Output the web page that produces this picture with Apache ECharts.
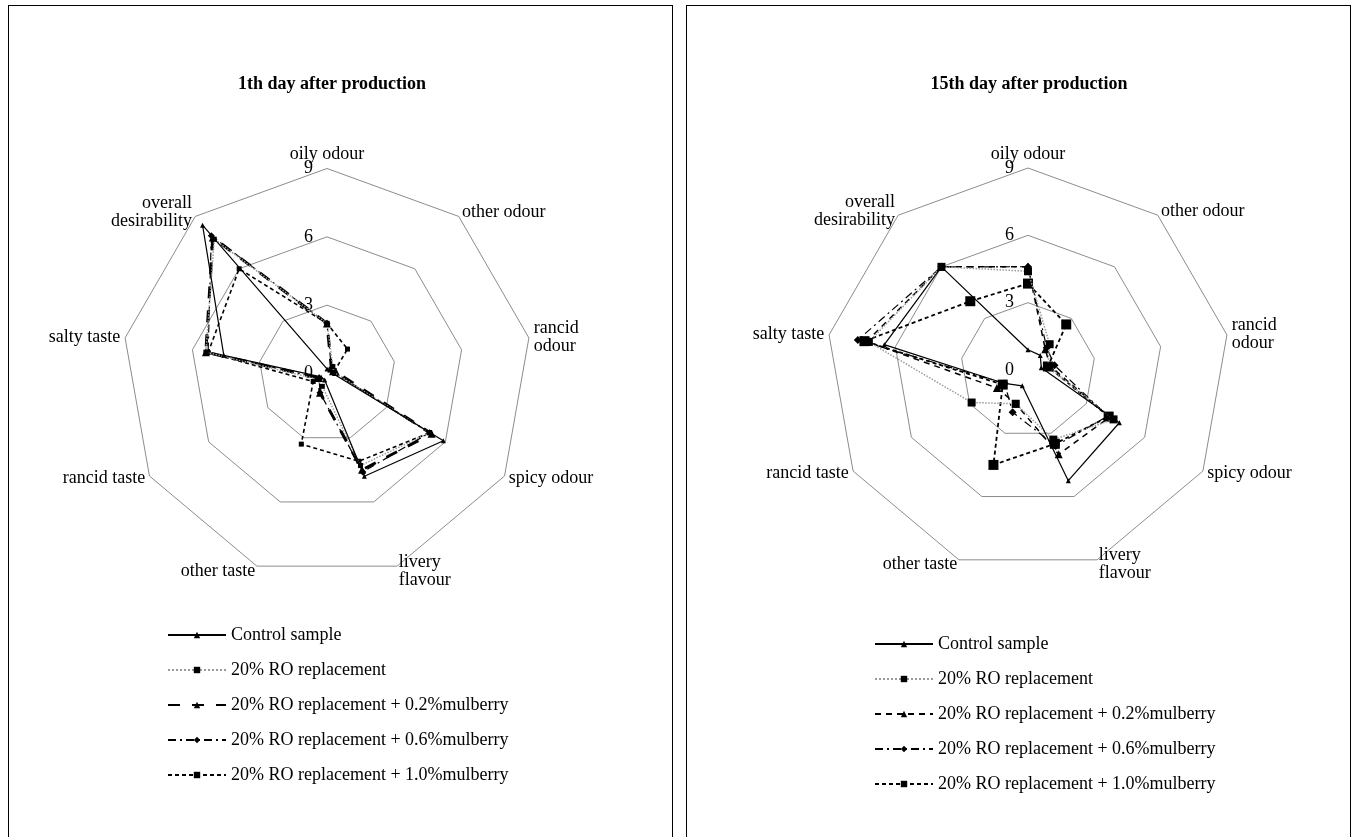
<!DOCTYPE html>
<html><head><meta charset="utf-8">
<script src="https://cdn.jsdelivr.net/npm/echarts@6/dist/echarts.min.js"></script>
<style>
html,body{margin:0;padding:0;background:#fff;overflow:hidden;width:1356px;height:837px;}
.panel{position:absolute;top:5px;width:665px;height:850px;border:1px solid #000;box-sizing:border-box;background:#fff;}
#p1{left:8px;} #p2{left:686px;}
.chart{position:absolute;left:0;top:0;width:663px;height:848px;}
</style></head>
<body>
<div class="panel" id="p1"><div class="chart" id="c1"></div></div>
<div class="panel" id="p2"><div class="chart" id="c2"></div></div>
<script>
// ---- data ----
const indicatorNames = ['oily odour','other odour','rancid\nodour','spicy odour','livery\nflavour','other taste','rancid taste','salty taste','overall\ndesirability'];
const axisMin = 0;
const axisMax = 9;
const tickInterval = 3;
const seriesNames = ['Control sample','20% RO replacement','20% RO replacement + 0.2%mulberry','20% RO replacement + 0.6%mulberry','20% RO replacement + 1.0%mulberry'];
const chartTitles = ['1th day after production','15th day after production'];

// order: oily, other odour, rancid odour, spicy, livery, other taste, rancid taste, salty, overall
const day1Control = [0.2, 0.2, 0.2, 5.9, 4.8, 0.3, 0.3, 4.6, 8.5];
const day1RO      = [2.2, 0.4, 0.3, 5.2, 4.3, 0.6, 0.5, 5.4, 7.7];
const day1M02     = [2.2, 0.3, 0.4, 5.3, 4.5, 0.9, 0.4, 5.4, 7.8];
const day1M06     = [2.2, 0.3, 0.3, 5.2, 4.6, 0.9, 0.4, 5.3, 7.9];
const day1M10     = [2.2, 1.4, 0.3, 5.2, 4.1, 3.3, 0.7, 5.3, 6.0];

const day15Control = [0.9, 0.85, 0.6, 4.7, 5.25, 0.75, 1.2, 6.5, 6.0];
const day15RO      = [4.4, 1.5, 0.9, 4.4, 3.3, 1.6, 2.9, 7.2, 6.0];
const day15M02     = [4.6, 1.2, 1.0, 4.2, 4.0, 1.6, 1.6, 7.3, 6.0];
const day15M06     = [4.6, 1.3, 1.2, 4.1, 3.6, 2.0, 1.2, 7.7, 6.0];
const day15M10     = [3.85, 2.65, 0.9, 4.15, 3.5, 4.5, 1.3, 7.4, 4.0];

// ---- styles ----
const FONT = 'Liberation Serif';
const styles1 = [
  {symbol:'triangle', size:5, color:'#000', width:1.2, type:'solid'},
  {symbol:'rect', size:5, color:'#9a9a9a', width:1.5, type:'dotted'},
  {symbol:'triangle', size:8, color:'#000', width:3, type:[12,12]},
  {symbol:'diamond', size:7, color:'#000', width:1.2, type:[8,4,2,4]},
  {symbol:'rect', size:5, color:'#000', width:1.6, type:[4,3]}
];
const styles2 = [
  {symbol:'triangle', size:5, color:'#000', width:1.2, type:'solid'},
  {symbol:'rect', size:8, color:'#9a9a9a', width:1.5, type:'dotted'},
  {symbol:'triangle', size:8, color:'#000', width:1.5, type:[6,5]},
  {symbol:'diamond', size:8, color:'#000', width:1.2, type:[8,4,2,4]},
  {symbol:'rect', size:10, color:'#000', width:1.8, type:[4,3]}
];

function build(cfg){
  // ECharts radar runs counter-clockwise; reorder so the picture runs clockwise
  const order = [0,8,7,6,5,4,3,2,1];
  const indicator = order.map(i => ({name: indicatorNames[i], min: axisMin, max: axisMax}));
  const series = [];
  cfg.styles.forEach((st,k) => series.push({
    type:'line', name: seriesNames[k], data: [], xAxisIndex:0, yAxisIndex:0,
    symbol: st.symbol, symbolSize: Math.min(st.size, 7),
    lineStyle:{color: st.color, width: st.width, type: st.type},
    itemStyle:{color:'#000'}
  }));
  cfg.values.forEach((v,k) => {
    const st = cfg.styles[k];
    series.push({
      type:'radar', name: seriesNames[k], radarIndex:0, z: 10 - k,
      symbol: st.symbol, symbolSize: st.size,
      lineStyle:{color: st.color, width: st.width, type: st.type},
      itemStyle:{color:'#000'},
      data:[{name: seriesNames[k], value: order.map(i => v[i])}]
    });
  });
  return {
    animation:false,
    backgroundColor:'#fff',
    title:{text: cfg.title, left: cfg.titleX, top: 64, textAlign:'center',
      textStyle:{fontFamily: FONT, fontSize:18, fontWeight:'bold', color:'#000'}},
    grid:{show:false, left:0, top:0, width:1, height:1},
    xAxis:{show:false, type:'value'},
    yAxis:{show:false, type:'value'},
    legend:{orient:'vertical', left: cfg.legendX, top: cfg.legendY, itemWidth:58, itemHeight:8, itemGap:15,
      data: seriesNames, selectedMode:false,
      textStyle:{fontFamily: FONT, fontSize:18, color:'#000', lineHeight:20}},
    radar:{center: cfg.center, radius: cfg.radius, startAngle:90, shape:'polygon', splitNumber: (axisMax-axisMin)/tickInterval,
      indicator, nameGap:5,
      axisName:{color:'#000', fontFamily: FONT, fontSize:18},
      axisLine:{show:false}, axisTick:{show:false}, axisLabel:{show:false},
      splitLine:{lineStyle:{color:'#8c8c8c', width:1}}, splitArea:{show:false}},
    polar:{center: cfg.center, radius: cfg.radius},
    angleAxis:{show:false, startAngle:90, min:0, max:360},
    radiusAxis:{min: axisMin, max: axisMax, interval: tickInterval,
      axisLine:{show:false}, axisTick:{show:false}, splitLine:{show:false},
      axisLabel:{show:true, fontFamily: FONT, fontSize:18, color:'#000', margin:14}},
    series
  };
}

const c1 = echarts.init(document.getElementById('c1'), null, {renderer:'canvas'});
c1.setOption(build({
  title: chartTitles[0], titleX: 318, center:[318, 367.5], radius:205,
  legendX:153, legendY:614, styles: styles1,
  values:[day1Control, day1RO, day1M02, day1M06, day1M10]
}));
const c2 = echarts.init(document.getElementById('c2'), null, {renderer:'canvas'});
c2.setOption(build({
  title: chartTitles[1], titleX: 337, center:[341, 364], radius:202,
  legendX:182, legendY:623, styles: styles2,
  values:[day15Control, day15RO, day15M02, day15M06, day15M10]
}));
</script>
</body></html>
